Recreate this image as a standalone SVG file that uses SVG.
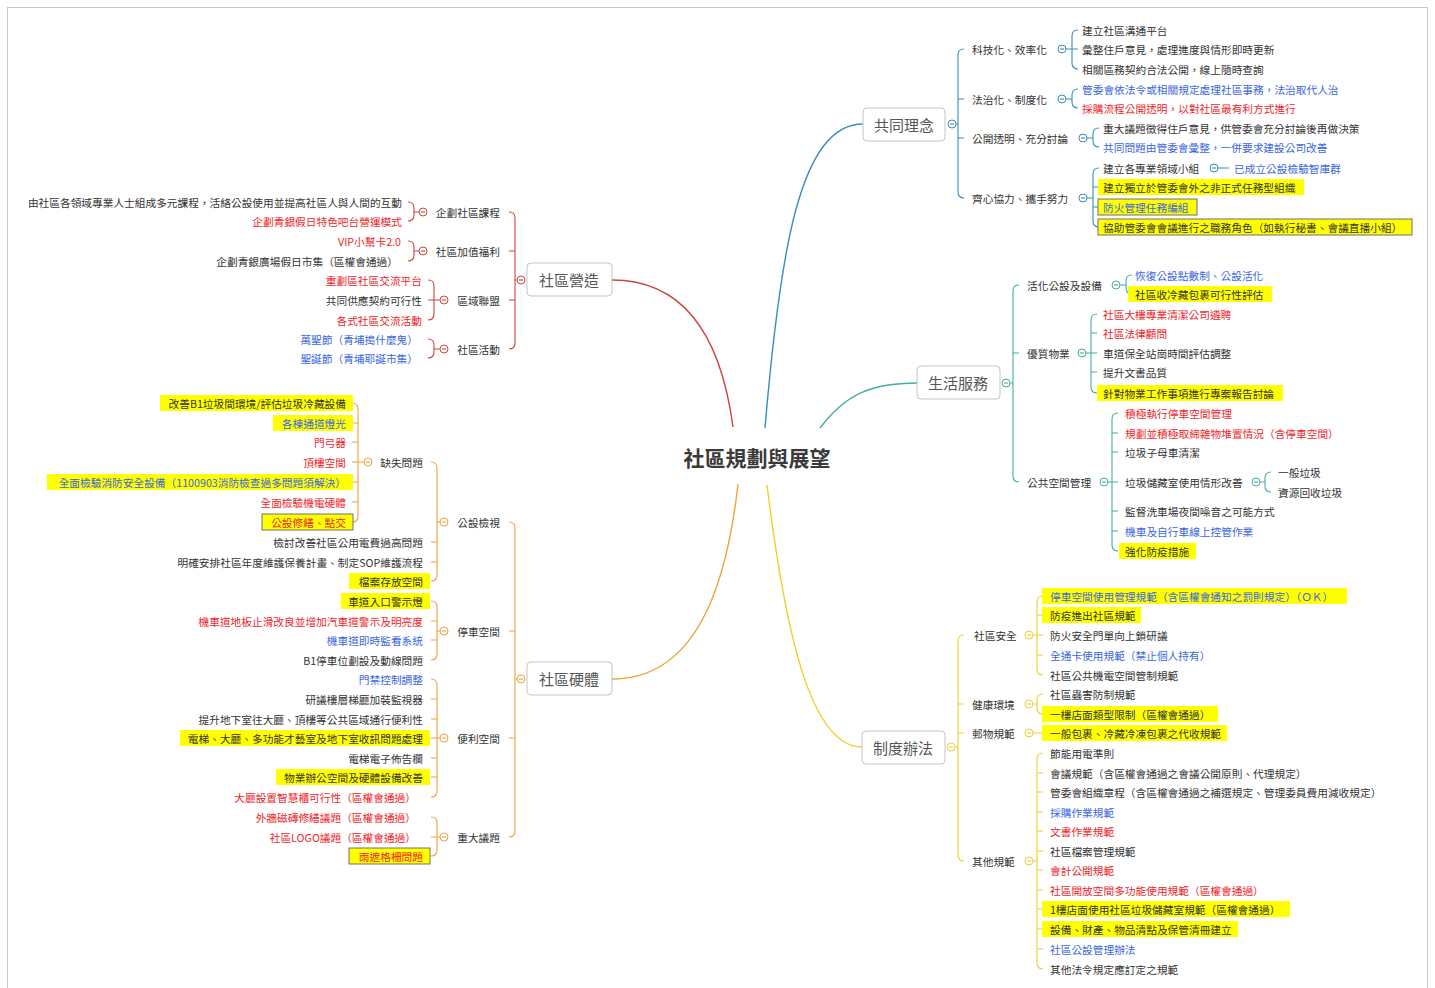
<svg xmlns="http://www.w3.org/2000/svg" width="1435" height="988" viewBox="0 0 1435 988">
<style>
.t{font-family:"Noto Sans CJK TC","Noto Sans CJK SC",sans-serif;font-size:10.7px;fill:#333;dominant-baseline:central}
.e{text-anchor:end}
.b{fill:#3a66e0}
.r{fill:#f0242a}
.m{font-family:"Noto Sans CJK TC","Noto Sans CJK SC",sans-serif;font-size:15px;fill:#555;text-anchor:middle;dominant-baseline:central}
.ti{font-family:"Noto Sans CJK TC","Noto Sans CJK SC",sans-serif;font-size:21px;font-weight:bold;fill:#3a3a3a;text-anchor:middle;dominant-baseline:central}
.n{fill:#fff;stroke:#c4c4c4;stroke-width:1}
.y{fill:#ffff00}
.yb{fill:#ffff00;stroke:#707070;stroke-width:1}
.ln{fill:none;stroke-width:1.1}
.cl{fill:none;stroke-width:1.4}
.ca{stroke:#3a8dbb}.cb{stroke:#44ae9f}.cc{stroke:#f0cf2c}.cd{stroke:#d0443e}.ce{stroke:#f0a23c}
.ci{fill:#fff;stroke-width:1}
</style>
<rect x="7.5" y="7.5" width="1420" height="995" fill="#fff" stroke="#c8c8c8"/>

<g id="connectors">
<path class="cl ca" d="M765 428 C780 250 800 124 863 124"/>
<path class="cl cb" d="M820 428 C845 395 870 383 917 383"/>
<path class="cl cc" d="M767 485 C785 630 810 747 862 747"/>
<path class="cl cd" d="M733 427 C720 330 680 280 612 280"/>
<path class="cl ce" d="M738 484 C725 600 690 679 612 679"/>
<path class="ln ca" d="M956 124 H958 M964 49 Q958 49 958 55 V192 Q958 198 964 198 M958 99 H964 M958 138 H964
M1066 49 H1072 M1078 30 Q1072 30 1072 36 V63 Q1072 69 1078 69 M1072 49 H1078
M1066 99 H1072 M1078 89 Q1072 89 1072 95 V102 Q1072 108 1078 108
M1087 138 H1093 M1099 128 Q1093 128 1093 134 V141 Q1093 147 1099 147
M1087 198 H1093 M1099 168 Q1093 168 1093 174 V221 Q1093 227 1099 227 M1093 187 H1098 M1093 207 H1098
M1218 168 H1229"/>
<path class="ln cb" d="M1010 383 H1013 M1019 285 Q1013 285 1013 291 V476 Q1013 482 1019 482 M1013 353 H1019
M1120 285 H1126 M1132 275 Q1126 275 1126 281 V288 Q1126 294 1132 294
M1086 353 H1091 M1097 314 Q1091 314 1091 320 V387 Q1091 393 1097 393 M1091 333 H1097 M1091 353 H1097 M1091 372 H1097
M1108 482 H1112 M1118 413 Q1112 413 1112 419 V545 Q1112 551 1118 551 M1112 433 H1118 M1112 452 H1118 M1112 482 H1118 M1112 511 H1118 M1112 531 H1118
M1260 482 H1265 M1271 472 Q1265 472 1265 478 V486 Q1265 492 1271 492"/>
<path class="ln cc" d="M955 747 H958 M964 635 Q958 635 958 641 V855 Q958 861 964 861 M958 704 H964 M958 733 H964
M1033 635 H1037 M1043 596 Q1037 596 1037 602 V669 Q1037 675 1043 675 M1037 615 H1043 M1037 635 H1043 M1037 655 H1043
M1033 704 H1037 M1043 694 Q1037 694 1037 700 V708 Q1037 714 1043 714
M1033 733 H1042
M1033 861 H1037 M1043 753 Q1037 753 1037 759 V963 Q1037 969 1043 969 M1037 773 H1043 M1037 792 H1043 M1037 812 H1043 M1037 831 H1043 M1037 851 H1043 M1037 870 H1043 M1037 890 H1043 M1037 909 H1042 M1037 929 H1042 M1037 949 H1043"/>
<path class="ln cd" d="M517 280 H515 M509 212 Q515 212 515 218 V343 Q515 349 509 349 M515 251 H509 M515 300 H509
M419 212 H414 M408 202 Q414 202 414 208 V215 Q414 221 408 221
M419 251 H414 M408 241 Q414 241 414 247 V255 Q414 261 408 261
M440 300 H434 M428 280 Q434 280 434 286 V314 Q434 320 428 320 M434 300 H428
M440 349 H434 M428 339 Q434 339 434 345 V352 Q434 358 428 358"/>
<path class="ln ce" d="M517 679 H515 M509 522 Q515 522 515 528 V831 Q515 837 509 837 M515 631 H509 M515 738 H509
M440 522 H437 M431 462 Q437 462 437 468 V575 Q437 581 431 581 M437 542 H431 M437 562 H431
M364 462 H358 M352 403 Q358 403 358 409 V516 Q358 522 352 522 M358 423 H353 M358 442 H352 M358 462 H352 M358 482 H353 M358 502 H352
M440 631 H437 M431 601 Q437 601 437 607 V654 Q437 660 431 660 M437 621 H431 M437 640 H431
M440 738 H437 M431 679 Q437 679 437 685 V791 Q437 797 431 797 M437 699 H431 M437 719 H431 M437 738 H431 M437 758 H431 M437 777 H431
M440 837 H437 M431 817 Q437 817 437 823 V850 Q437 856 431 856 M437 837 H431"/>
</g>

<g id="center"><text class="ti" x="757" y="457">社區規劃與展望</text></g>

<g id="n-gongtong">
<rect class="n" x="863" y="108" width="82" height="33" rx="4"/>
<text class="m" x="904" y="124">共同理念</text>
<circle class="ci ca" cx="952" cy="124" r="4"/><path class="ln ca" d="M950 124 H954"/>
</g>
<g id="n-gt-1">
<text class="t" x="972" y="49">科技化、效率化</text>
<circle class="ci ca" cx="1062" cy="49" r="4"/><path class="ln ca" d="M1060 49 H1064"/>
<text class="t" x="1082" y="30">建立社區溝通平台</text>
<text class="t" x="1082" y="49">彙整住戶意見，處理進度與情形即時更新</text>
<text class="t" x="1082" y="69">相關區務契約合法公開，線上隨時查詢</text>
</g>
<g id="n-gt-2">
<text class="t" x="972" y="99">法治化、制度化</text>
<circle class="ci ca" cx="1062" cy="99" r="4"/><path class="ln ca" d="M1060 99 H1064"/>
<text class="t b" x="1082" y="89">管委會依法令或相關規定處理社區事務，法治取代人治</text>
<text class="t r" x="1082" y="108">採購流程公開透明，以對社區最有利方式進行</text>
</g>
<g id="n-gt-3">
<text class="t" x="972" y="138">公開透明、充分討論</text>
<circle class="ci ca" cx="1083" cy="138" r="4"/><path class="ln ca" d="M1081 138 H1085"/>
<text class="t" x="1103" y="128">重大議題徵得住戶意見，供管委會充分討論後再做決策</text>
<text class="t b" x="1103" y="147">共同問題由管委會彙整，一併要求建設公司改善</text>
</g>
<g id="n-gt-4">
<text class="t" x="972" y="198">齊心協力、攜手努力</text>
<circle class="ci ca" cx="1083" cy="198" r="4"/><path class="ln ca" d="M1081 198 H1085"/>
<text class="t" x="1103" y="168">建立各專業領域小組</text>
<circle class="ci ca" cx="1214" cy="168" r="4"/><path class="ln ca" d="M1212 168 H1216"/>
<text class="t b" x="1234" y="168">已成立公設檢驗智庫群</text>
<rect class="y" x="1098" y="179" width="206" height="16"/>
<text class="t" x="1103" y="187">建立獨立於管委會外之非正式任務型組織</text>
<rect class="yb" x="1098" y="199" width="99" height="16"/>
<text class="t b" x="1103" y="207">防火管理任務編組</text>
<rect class="yb" x="1098" y="219" width="314" height="16"/>
<text class="t" x="1103" y="227">協助管委會會議進行之職務角色（如執行秘書、會議直播小組）</text>
</g>

<g id="n-shenghuo">
<rect class="n" x="917" y="366" width="83" height="33" rx="4"/>
<text class="m" x="958" y="382">生活服務</text>
<circle class="ci cb" cx="1006" cy="383" r="4"/><path class="ln cb" d="M1004 383 H1008"/>
</g>
<g id="n-sh-1">
<text class="t" x="1027" y="285">活化公設及設備</text>
<circle class="ci cb" cx="1116" cy="285" r="4"/><path class="ln cb" d="M1114 285 H1118"/>
<text class="t b" x="1135" y="275">恢復公設點數制、公設活化</text>
<rect class="y" x="1128" y="286" width="144" height="16"/>
<text class="t" x="1135" y="294">社區收冷藏包裹可行性評估</text>
</g>
<g id="n-sh-2">
<text class="t" x="1027" y="353">優質物業</text>
<circle class="ci cb" cx="1082" cy="353" r="4"/><path class="ln cb" d="M1080 353 H1084"/>
<text class="t r" x="1103" y="314">社區大樓專業清潔公司遴聘</text>
<text class="t r" x="1103" y="333">社區法律顧問</text>
<text class="t" x="1103" y="353">車道保全站崗時間評估調整</text>
<text class="t" x="1103" y="372">提升文書品質</text>
<rect class="y" x="1097" y="385" width="186" height="16"/>
<text class="t" x="1103" y="393">針對物業工作事項進行專案報告討論</text>
</g>
<g id="n-sh-3">
<text class="t" x="1027" y="482">公共空間管理</text>
<circle class="ci cb" cx="1104" cy="482" r="4"/><path class="ln cb" d="M1102 482 H1106"/>
<text class="t r" x="1125" y="413">積極執行停車空間管理</text>
<text class="t r" x="1125" y="433">規劃並積極取締雜物堆置情況（含停車空間）</text>
<text class="t" x="1125" y="452">垃圾子母車清潔</text>
<text class="t" x="1125" y="482">垃圾儲藏室使用情形改善</text>
<circle class="ci cb" cx="1256" cy="482" r="4"/><path class="ln cb" d="M1254 482 H1258"/>
<text class="t" x="1278" y="472">一般垃圾</text>
<text class="t" x="1278" y="492">資源回收垃圾</text>
<text class="t" x="1125" y="511">監督洗車場夜間噪音之可能方式</text>
<text class="t b" x="1125" y="531">機車及自行車線上控管作業</text>
<rect class="y" x="1119" y="543" width="77" height="16"/>
<text class="t" x="1125" y="551">強化防疫措施</text>
</g>

<g id="n-zhidu">
<rect class="n" x="862" y="731" width="83" height="33" rx="4"/>
<text class="m" x="903" y="747">制度辦法</text>
<circle class="ci cc" cx="951" cy="747" r="4"/><path class="ln cc" d="M949 747 H953"/>
</g>
<g id="n-zd-1">
<text class="t" x="974" y="635">社區安全</text>
<circle class="ci cc" cx="1029" cy="635" r="4"/><path class="ln cc" d="M1027 635 H1031"/>
<rect class="y" x="1042" y="588" width="305" height="16"/>
<text class="t b" x="1050" y="596">停車空間使用管理規範（含區權會通知之罰則規定）（ＯＫ）</text>
<rect class="y" x="1042" y="607" width="99" height="16"/>
<text class="t" x="1050" y="615">防疫進出社區規範</text>
<text class="t" x="1050" y="635">防火安全門單向上鎖研議</text>
<text class="t b" x="1050" y="655">全通卡使用規範（禁止個人持有）</text>
<text class="t" x="1050" y="675">社區公共機電空間管制規範</text>
</g>
<g id="n-zd-2">
<text class="t" x="972" y="704">健康環境</text>
<circle class="ci cc" cx="1029" cy="704" r="4"/><path class="ln cc" d="M1027 704 H1031"/>
<text class="t" x="1050" y="694">社區蟲害防制規範</text>
<rect class="y" x="1042" y="706" width="176" height="16"/>
<text class="t" x="1050" y="714">一樓店面類型限制（區權會通過）</text>
</g>
<g id="n-zd-3">
<text class="t" x="972" y="733">郵物規範</text>
<circle class="ci cc" cx="1029" cy="733" r="4"/><path class="ln cc" d="M1027 733 H1031"/>
<rect class="y" x="1042" y="725" width="185" height="16"/>
<text class="t" x="1050" y="733">一般包裹、冷藏冷凍包裹之代收規範</text>
</g>
<g id="n-zd-4">
<text class="t" x="972" y="861">其他規範</text>
<circle class="ci cc" cx="1029" cy="861" r="4"/><path class="ln cc" d="M1027 861 H1031"/>
<text class="t" x="1050" y="753">節能用電準則</text>
<text class="t" x="1050" y="773">會議規範（含區權會通過之會議公開原則、代理規定）</text>
<text class="t" x="1050" y="792">管委會組織章程（含區權會通過之補選規定、管理委員費用減收規定）</text>
<text class="t b" x="1050" y="812">採購作業規範</text>
<text class="t r" x="1050" y="831">文書作業規範</text>
<text class="t" x="1050" y="851">社區檔案管理規範</text>
<text class="t r" x="1050" y="870">會計公開規範</text>
<text class="t r" x="1050" y="890">社區開放空間多功能使用規範（區權會通過）</text>
<rect class="y" x="1042" y="901" width="248" height="16"/>
<text class="t" x="1050" y="909">1樓店面使用社區垃圾儲藏室規範（區權會通過）</text>
<rect class="y" x="1042" y="921" width="196" height="16"/>
<text class="t" x="1050" y="929">設備、財產、物品清點及保管清冊建立</text>
<text class="t b" x="1050" y="949">社區公設管理辦法</text>
<text class="t" x="1050" y="969">其他法令規定應訂定之規範</text>
</g>

<g id="n-yingzao">
<rect class="n" x="527" y="263" width="85" height="33" rx="4"/>
<text class="m" x="569" y="279">社區營造</text>
<circle class="ci cd" cx="521" cy="280" r="4"/><path class="ln cd" d="M519 280 H523"/>
</g>
<g id="n-yz-1">
<text class="t e" x="500" y="212">企劃社區課程</text>
<circle class="ci cd" cx="423" cy="212" r="4"/><path class="ln cd" d="M421 212 H425"/>
<text class="t e" x="402" y="202">由社區各領域專業人士組成多元課程，活絡公設使用並提高社區人與人間的互動</text>
<text class="t e r" x="402" y="221">企劃青銀假日特色吧台營運模式</text>
</g>
<g id="n-yz-2">
<text class="t e" x="500" y="251">社區加值福利</text>
<circle class="ci cd" cx="423" cy="251" r="4"/><path class="ln cd" d="M421 251 H425"/>
<text class="t e r" x="401" y="241">VIP小幫卡2.0</text>
<text class="t e" x="398" y="261">企劃青銀廣場假日市集（區權會通過）</text>
</g>
<g id="n-yz-3">
<text class="t e" x="500" y="300">區域聯盟</text>
<circle class="ci cd" cx="444" cy="300" r="4"/><path class="ln cd" d="M442 300 H446"/>
<text class="t e r" x="422" y="280">重劃區社區交流平台</text>
<text class="t e" x="422" y="300">共同供應契約可行性</text>
<text class="t e r" x="422" y="320">各式社區交流活動</text>
</g>
<g id="n-yz-4">
<text class="t e" x="500" y="349">社區活動</text>
<circle class="ci cd" cx="444" cy="349" r="4"/><path class="ln cd" d="M442 349 H446"/>
<text class="t e b" x="418" y="339">萬聖節（青埔搗什麼鬼）</text>
<text class="t e b" x="418" y="358">聖誕節（青埔耶誕市集）</text>
</g>

<g id="n-yingti">
<rect class="n" x="527" y="662" width="85" height="33" rx="4"/>
<text class="m" x="569" y="678">社區硬體</text>
<circle class="ci ce" cx="521" cy="679" r="4"/><path class="ln ce" d="M519 679 H523"/>
</g>
<g id="n-yt-1">
<text class="t e" x="500" y="522">公設檢視</text>
<circle class="ci ce" cx="444" cy="522" r="4"/><path class="ln ce" d="M442 522 H446"/>
<text class="t e" x="423" y="462">缺失問題</text>
<circle class="ci ce" cx="368" cy="462" r="4"/><path class="ln ce" d="M366 462 H370"/>
<rect class="y" x="160" y="395" width="193" height="16"/>
<text class="t e" x="346" y="403">改善B1垃圾間環境/評估垃圾冷藏設備</text>
<rect class="y" x="273" y="415" width="80" height="16"/>
<text class="t e b" x="346" y="423">各棟通道燈光</text>
<text class="t e r" x="346" y="442">門弓器</text>
<text class="t e r" x="346" y="462">頂樓空間</text>
<rect class="y" x="47" y="474" width="306" height="16"/>
<text class="t e b" x="346" y="482">全面檢驗消防安全設備（1100903消防檢查過多問題須解決）</text>
<text class="t e r" x="346" y="502">全面檢驗機電硬體</text>
<rect class="yb" x="262" y="514" width="91" height="16"/>
<text class="t e r" x="346" y="522">公設修繕、點交</text>
<text class="t e" x="423" y="542">檢討改善社區公用電費過高問題</text>
<text class="t e" x="423" y="562">明確安排社區年度維護保養計畫、制定SOP維護流程</text>
<rect class="y" x="349" y="573" width="81" height="16"/>
<text class="t e" x="423" y="581">檔案存放空間</text>
</g>
<g id="n-yt-2">
<text class="t e" x="500" y="631">停車空間</text>
<circle class="ci ce" cx="444" cy="631" r="4"/><path class="ln ce" d="M442 631 H446"/>
<rect class="y" x="341" y="593" width="89" height="16"/>
<text class="t e" x="423" y="601">車道入口警示燈</text>
<text class="t e r" x="423" y="621">機車道地板止滑改良並增加汽車道警示及明亮度</text>
<text class="t e b" x="423" y="640">機車道即時監看系統</text>
<text class="t e" x="423" y="660">B1停車位劃設及動線問題</text>
</g>
<g id="n-yt-3">
<text class="t e" x="500" y="738">便利空間</text>
<circle class="ci ce" cx="444" cy="738" r="4"/><path class="ln ce" d="M442 738 H446"/>
<text class="t e b" x="423" y="679">門禁控制調整</text>
<text class="t e" x="423" y="699">研議樓層梯廳加裝監視器</text>
<text class="t e" x="423" y="719">提升地下室往大廳、頂樓等公共區域通行便利性</text>
<rect class="y" x="180" y="730" width="250" height="16"/>
<text class="t e" x="423" y="738">電梯、大廳、多功能才藝室及地下室收訊問題處理</text>
<text class="t e" x="423" y="758">電梯電子佈告欄</text>
<rect class="y" x="276" y="769" width="154" height="16"/>
<text class="t e" x="423" y="777">物業辦公空間及硬體設備改善</text>
<text class="t e r" x="416" y="797">大廳設置智慧櫃可行性（區權會通過）</text>
</g>
<g id="n-yt-4">
<text class="t e" x="500" y="837">重大議題</text>
<circle class="ci ce" cx="444" cy="837" r="4"/><path class="ln ce" d="M442 837 H446"/>
<text class="t e r" x="416" y="817">外牆磁磚修繕議題（區權會通過）</text>
<text class="t e r" x="416" y="837">社區LOGO議題（區權會通過）</text>
<rect class="yb" x="349" y="848" width="81" height="16"/>
<text class="t e r" x="423" y="856">雨遮格柵問題</text>
</g>
</svg>
